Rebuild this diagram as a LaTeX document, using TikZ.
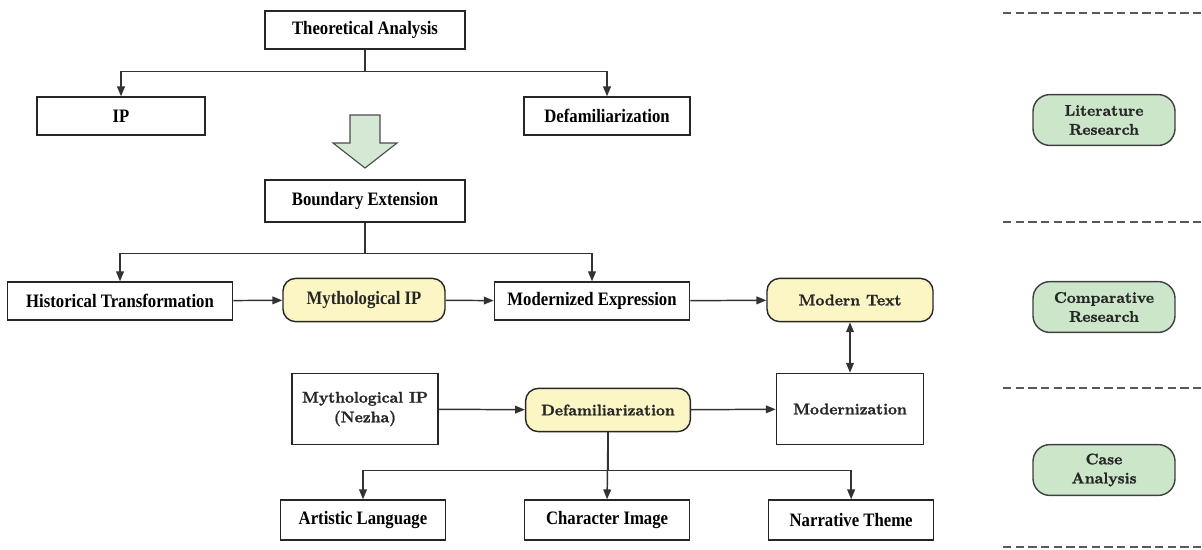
\documentclass[tikz,border=0pt]{standalone}
\usepackage{fontspec}
\usetikzlibrary{arrows.meta}
\newfontfamily\tnr{Liberation Serif}[FakeStretch=0.88]
\newfontfamily\lmbf{lmroman10-bold}[Extension=.otf, FakeBold=1.4]
\definecolor{hiyellow}{RGB}{252,246,196}
\definecolor{mgreen}{RGB}{204,230,202}
\definecolor{agreen}{RGB}{212,232,211}
\begin{document}
\begin{tikzpicture}[
    x=0.025cm, y=-0.025cm,
    node distance=6.1cm,
    plain/.style={rectangle, draw=black!85, line width=1pt, minimum height=0.95cm, inner sep=2pt, font=\tnr\bfseries\fontsize{13.5}{15}\selectfont},
    wide/.style={plain, align=center, text=black!85, font=\lmbf\fontsize{11}{14}\selectfont},
    hilite/.style={wide, rounded corners=9pt, fill=hiyellow, minimum height=1.08cm},
    method/.style={rectangle, rounded corners=12pt, draw=black!75, line width=1pt, fill=mgreen, minimum width=3.55cm, minimum height=1.27cm, align=center, inner sep=2pt, text=black!85, font=\lmbf\fontsize{11}{13.5}\selectfont},
    arrow/.style={-{Triangle[length=7pt,width=5.5pt]}, line width=1.05pt, draw=black!80},
    twoway/.style={{Triangle[length=7pt,width=5.5pt]}-{Triangle[length=7pt,width=5.5pt]}, line width=1.05pt, draw=black!80},
    sep/.style={dash pattern=on 6pt off 3pt, line width=1pt, draw=black!65}
]
    \useasboundingbox (0,0) rectangle (1202,549);

    % theory part
    \node[plain, minimum width=5cm] (theory) at (365,30) {Theoretical Analysis};
    \node[plain, minimum width=4.2cm] (ip) at (121,116) {IP};
    \node[plain, minimum width=4.15cm] (defamtop) at (607,116) {Defamiliarization};
    \draw[arrow] (theory.south) -- ++(0,22) -| (ip.north);
    \draw[arrow] (theory.south) -- ++(0,22) -| (defamtop.north);

    % big arrow
    \draw[fill=agreen, draw=black!70, line width=0.8pt] (350,115) -- (380,115) -- (380,143) -- (397,143) -- (365,168) -- (333,143) -- (350,143) -- cycle;

    % boundary extension
    \node[plain, minimum width=5cm, minimum height=1.05cm] (boundary) at (365,201) {Boundary Extension};
    \node[plain, minimum width=5.63cm] (hist) at (120,301) {Historical Transformation};
    \node[hilite, minimum width=4.05cm] (myth) at (364,300) {\tnr\bfseries\fontsize{13.5}{15}\selectfont Mythological IP};
    \node[plain, minimum width=4.88cm] (modexp) at (592,301) {Modernized Expression};
    \node[hilite, minimum width=4.15cm] (modtext) at (850,300) {Modern Text};
    \draw[arrow] (boundary.south) -- ++(0,31) -| (hist.north);
    \draw[arrow] (boundary.south) -- ++(0,31) -| (modexp.north);
    \draw[arrow] (hist) -- (myth);
    \draw[arrow] (myth) -- (modexp);
    \draw[arrow] (modexp) -- (modtext);

    % case
    \node[wide, minimum width=3.65cm, minimum height=1.78cm] (nezha) at (365,409) {Mythological IP\\(Nezha)};
    \node[hilite, minimum width=4.12cm] (defam) at (608,410) {Defamiliarization};
    \node[wide, minimum width=3.68cm, minimum height=1.78cm] (modern) at (850,409) {Modernization};
    \draw[arrow] (nezha) -- (defam);
    \draw[arrow] (defam) -- (modern);
    \draw[twoway] (modtext) -- (modern);

    \node[plain, minimum width=4.13cm, minimum height=1cm] (art) at (363,520) {Artistic Language};
    \node[plain, minimum width=4.13cm, minimum height=1cm, right of=art] (char) {Character Image};
    \node[plain, minimum width=4.13cm, minimum height=1cm, right of=char] (narr) {Narrative Theme};
    \draw[arrow] (defam.south) -- ++(0,38) -| (art.north);
    \draw[arrow] (defam.south) -- (char.north);
    \draw[arrow] (defam.south) -- ++(0,38) -| (narr.north);

    % methods
    \foreach \y in {13,222,388,547}
        \draw[sep] (1003,\y) -- (1202,\y);
    \node[method] (lit) at (1104,120) {Literature\\Research};
    \node[method] (comp) at (1104,307) {Comparative\\Research};
    \node[method] (case) at (1104,470) {Case\\Analysis};
\end{tikzpicture}
\end{document}
